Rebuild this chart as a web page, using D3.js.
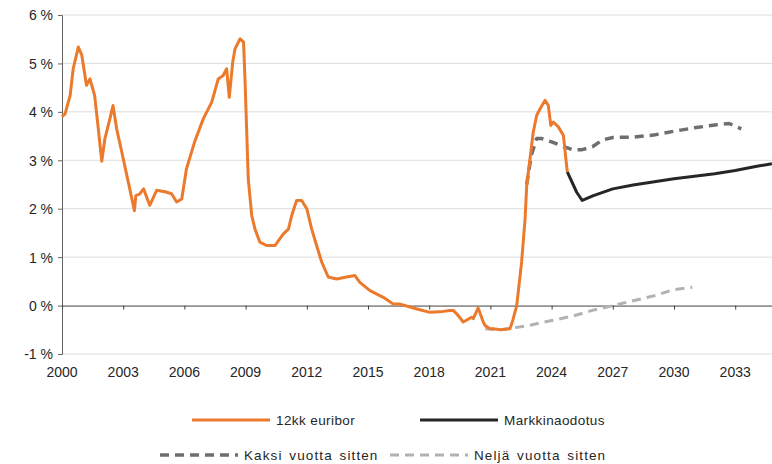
<!DOCTYPE html>
<html>
<head>
<meta charset="utf-8">
<script src="https://cdn.jsdelivr.net/npm/d3@7"></script>
<style>
  body { margin: 0; background: #fff; }
  svg { font-family: "Liberation Sans", Arial, sans-serif; }
  .tick-label { font-size: 14px; fill: #262626; }
  .legend-label { font-size: 13.5px; fill: #262626; letter-spacing: 0.4px; }
</style>
</head>
<body>
<svg width="772" height="464"></svg>
<script>
const svg = d3.select("svg");

// 12kk euribor (decimal year, %)
const euriborYears = [2000.0, 2000.15, 2000.4, 2000.55, 2000.8, 2000.97, 2001.2, 2001.37, 2001.6, 2001.78, 2001.95,
    2002.1, 2002.35, 2002.5, 2002.68, 2002.93, 2003.25, 2003.55, 2003.62, 2003.8, 2004.0, 2004.3, 2004.64,
    2005.05, 2005.37, 2005.62, 2005.87, 2006.1, 2006.5, 2006.93, 2007.34, 2007.66, 2007.9, 2008.07, 2008.2,
    2008.37, 2008.48, 2008.73, 2008.9, 2008.97, 2009.05, 2009.13, 2009.3, 2009.46, 2009.7, 2010.03, 2010.44,
    2010.85, 2011.1, 2011.26, 2011.5, 2011.75, 2012.0, 2012.24, 2012.48, 2012.73, 2013.05, 2013.46, 2013.95,
    2014.36, 2014.6, 2015.1, 2015.75, 2016.24, 2016.57, 2017.06, 2017.4, 2018.04, 2018.53, 2019.0, 2019.18,
    2019.35, 2019.67, 2020.08, 2020.16, 2020.4, 2020.65, 2020.74, 2020.98, 2021.14, 2021.5, 2021.96, 2022.1,
    2022.29, 2022.53, 2022.7, 2022.78, 2022.94, 2023.1, 2023.27, 2023.43, 2023.68, 2023.84, 2023.96, 2024.08,
    2024.33, 2024.58, 2024.7, 2024.77];
const euriborValues = [3.9, 3.96, 4.34, 4.89, 5.34, 5.17, 4.55, 4.68, 4.34, 3.65, 2.98,
    3.44, 3.86, 4.13, 3.65, 3.17, 2.55, 1.96, 2.27, 2.3, 2.41, 2.07, 2.38,
    2.35, 2.31, 2.14, 2.2, 2.82, 3.38, 3.86, 4.2, 4.68, 4.75, 4.89, 4.3,
    5.03, 5.3, 5.51, 5.44, 4.68, 3.65, 2.62, 1.86, 1.58, 1.31, 1.24, 1.24,
    1.48, 1.58, 1.86, 2.17, 2.17, 2.0, 1.58, 1.24, 0.9, 0.59, 0.55, 0.59,
    0.62, 0.48, 0.31, 0.17, 0.03, 0.03, -0.03, -0.07, -0.14, -0.13, -0.1, -0.1,
    -0.17, -0.34, -0.24, -0.27, -0.05, -0.34, -0.41, -0.48, -0.48, -0.5, -0.48, -0.3,
    0.0, 0.9, 1.79, 2.48, 3.03, 3.58, 3.93, 4.06, 4.24, 4.13, 3.72, 3.79,
    3.69, 3.51, 3.03, 2.76];

// Markkinaodotus (market expectation now)
const marketYears = [2024.77, 2025.23, 2025.5, 2026.05, 2027, 2028, 2030, 2032, 2033, 2034, 2034.8];
const marketValues = [2.76, 2.34, 2.17, 2.27, 2.41, 2.49, 2.62, 2.72, 2.79, 2.87, 2.93];

// Kaksi vuotta sitten (expectation two years ago)
const twoYearsYears = [2022.78, 2023.0, 2023.27, 2023.5, 2024, 2024.5, 2025.0, 2025.5, 2026, 2026.5, 2027, 2028, 2029, 2030, 2031, 2032, 2032.7, 2033.3];
const twoYearsValues = [2.5, 3.1, 3.45, 3.45, 3.38, 3.3, 3.22, 3.22, 3.28, 3.42, 3.47, 3.48, 3.52, 3.6, 3.67, 3.73, 3.76, 3.65];

// Neljä vuotta sitten (expectation four years ago)
const fourYearsYears = [2020.75, 2021.5, 2022.3, 2023, 2024, 2025, 2026, 2027, 2028, 2029, 2030, 2030.9];
const fourYearsValues = [-0.48, -0.5, -0.45, -0.4, -0.31, -0.22, -0.1, 0.0, 0.1, 0.2, 0.33, 0.38];

const xTicks = [2000, 2003, 2006, 2009, 2012, 2015, 2018, 2021, 2024, 2027, 2030, 2033];
const yTicks = [-1, 0, 1, 2, 3, 4, 5, 6];

const seriesNames = ["12kk euribor", "Markkinaodotus", "Kaksi vuotta sitten", "Neljä vuotta sitten"];

// Scales
const xScale = d3.scaleLinear().domain([2000, 2035]).range([62, 776]);
const yScale = d3.scaleLinear().domain([-1, 6]).range([354, 15]);

const toPoints = (xs, ys) => xs.map((x, i) => [x, ys[i]]);
const line = d3.line().x(d => xScale(d[0])).y(d => yScale(d[1]));

// Gridlines
svg.append("g").selectAll("line").data(yTicks.filter(d => d !== 0))
    .enter().append("line")
    .attr("x1", xScale(2000)).attr("x2", 772)
    .attr("y1", d => yScale(d)).attr("y2", d => yScale(d))
    .attr("stroke", "#dedede").attr("stroke-width", 1);

// Y axis
const yAxis = svg.append("g").attr("transform", `translate(${xScale(2000)},0)`)
    .call(d3.axisLeft(yScale).tickValues(yTicks).tickSize(4).tickFormat(d => d + " %"));
yAxis.select(".domain").attr("stroke", "#666");
yAxis.selectAll(".tick line").attr("stroke", "#666");
yAxis.selectAll(".tick text").attr("class", "tick-label").attr("x", -9).attr("dy", "0.35em");

// X axis sits on the zero line, labels below the chart
const xAxis = svg.append("g").attr("transform", `translate(0,${yScale(0)})`)
    .call(d3.axisBottom(xScale).tickValues(xTicks).tickSize(4).tickFormat(""));
xAxis.select(".domain").attr("stroke", "#404040").attr("d", `M${xScale(2000)},0.5H772`);
xAxis.selectAll(".tick line").attr("stroke", "#404040");

svg.append("g").selectAll("text").data(xTicks)
    .enter().append("text")
    .attr("class", "tick-label")
    .attr("x", d => xScale(d))
    .attr("y", 377)
    .attr("text-anchor", "middle")
    .text(d => d);

// Series lines
const series = [
    { name: seriesNames[3], data: toPoints(fourYearsYears, fourYearsValues), color: "#b2b2b2", width: 3, dash: "9,6" },
    { name: seriesNames[2], data: toPoints(twoYearsYears, twoYearsValues), color: "#6e6e6e", width: 3.5, dash: "9,6" },
    { name: seriesNames[1], data: toPoints(marketYears, marketValues), color: "#262626", width: 3, dash: null },
    { name: seriesNames[0], data: toPoints(euriborYears, euriborValues), color: "#ec7a2c", width: 3, dash: null }
];

svg.append("g").selectAll("path").data(series)
    .enter().append("path")
    .attr("d", d => line(d.data))
    .attr("fill", "none")
    .attr("stroke", d => d.color)
    .attr("stroke-width", d => d.width)
    .attr("stroke-linejoin", "round")
    .attr("stroke-dasharray", d => d.dash);

// Legend: two centred rows, the second row is wider
const legendItems = [
    { s: series[3], x: 192, y: 420, spacing: 0.4 },
    { s: series[2], x: 420, y: 420, spacing: 0.4 },
    { s: series[1], x: 160, y: 455, spacing: 1.1 },
    { s: series[0], x: 390, y: 455, spacing: 1.1 }
];

const legend = svg.append("g").selectAll("g").data(legendItems)
    .enter().append("g")
    .attr("transform", d => `translate(${d.x},${d.y})`);

legend.append("line")
    .attr("x1", 0).attr("x2", 78)
    .attr("stroke", d => d.s.color)
    .attr("stroke-width", d => d.s.width)
    .attr("stroke-dasharray", d => d.s.dash);

legend.append("text")
    .attr("class", "legend-label")
    .attr("x", 84)
    .attr("dy", "0.35em")
    .style("letter-spacing", d => d.spacing + "px")
    .style("word-spacing", d => (d.spacing > 1 ? 2 : 0) + "px")
    .text(d => d.s.name);
</script>
</body>
</html>
